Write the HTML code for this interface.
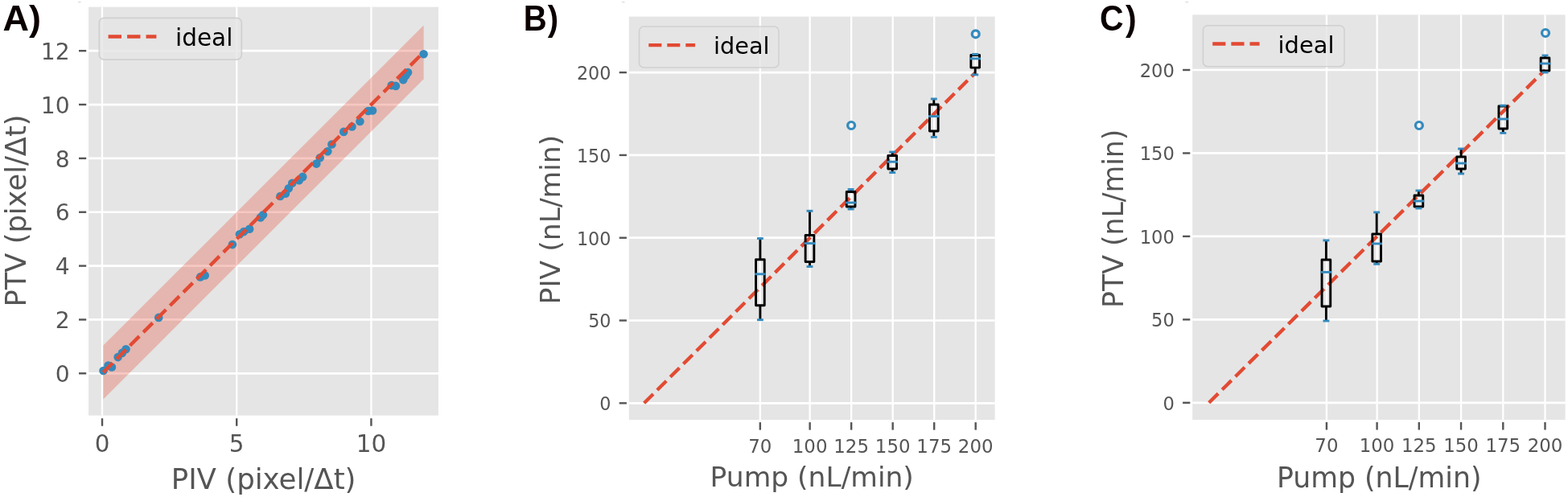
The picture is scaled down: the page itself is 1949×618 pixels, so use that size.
<!DOCTYPE html>
<html lang="en">
<head>
<meta charset="utf-8">
<title>Figure: PIV vs PTV comparison</title>
<style>
html,body{margin:0;padding:0;background:#fff;}
body{width:1949px;height:618px;overflow:hidden;}
svg{display:block;}
</style>
</head>
<body>
<svg width="1949" height="618" viewBox="0 0 1949 618" font-family="'DejaVu Sans', 'Liberation Sans', sans-serif">
<rect width="1949" height="618" fill="#fff"/>
<g id="panelA">
<rect x="96.8" y="1.9" width="4.0" height="1.3" rx="0.6" fill="#d9d9d9"/>
<rect x="110.1" y="8.6" width="434.80" height="508.00" fill="#E5E5E5"/>
<line x1="127.00" y1="8.6" x2="127.00" y2="516.6" stroke="#fff" stroke-width="2.3000000000000003"/>
<line x1="294.20" y1="8.6" x2="294.20" y2="516.6" stroke="#fff" stroke-width="2.3000000000000003"/>
<line x1="461.40" y1="8.6" x2="461.40" y2="516.6" stroke="#fff" stroke-width="2.3000000000000003"/>
<line x1="110.1" y1="464.30" x2="544.9" y2="464.30" stroke="#fff" stroke-width="2.7"/>
<line x1="110.1" y1="397.45" x2="544.9" y2="397.45" stroke="#fff" stroke-width="2.7"/>
<line x1="110.1" y1="330.60" x2="544.9" y2="330.60" stroke="#fff" stroke-width="2.7"/>
<line x1="110.1" y1="263.75" x2="544.9" y2="263.75" stroke="#fff" stroke-width="2.7"/>
<line x1="110.1" y1="196.90" x2="544.9" y2="196.90" stroke="#fff" stroke-width="2.7"/>
<line x1="110.1" y1="130.05" x2="544.9" y2="130.05" stroke="#fff" stroke-width="2.7"/>
<line x1="110.1" y1="63.20" x2="544.9" y2="63.20" stroke="#fff" stroke-width="2.7"/>
<polygon points="128.34,429.54 526.61,31.45 526.61,98.30 128.34,496.39" fill="#E24A33" fill-opacity="0.3"/>
<circle cx="128.50" cy="461.00" r="5.3" fill="#348ABD"/>
<circle cx="134.50" cy="454.50" r="5.3" fill="#348ABD"/>
<circle cx="138.90" cy="456.50" r="5.3" fill="#348ABD"/>
<circle cx="146.60" cy="444.10" r="5.3" fill="#348ABD"/>
<circle cx="151.80" cy="438.90" r="5.3" fill="#348ABD"/>
<circle cx="156.50" cy="434.30" r="5.3" fill="#348ABD"/>
<circle cx="197.20" cy="394.90" r="5.3" fill="#348ABD"/>
<circle cx="249.00" cy="344.40" r="5.3" fill="#348ABD"/>
<circle cx="254.70" cy="342.50" r="5.3" fill="#348ABD"/>
<circle cx="288.90" cy="304.10" r="5.3" fill="#348ABD"/>
<circle cx="297.90" cy="291.20" r="5.3" fill="#348ABD"/>
<circle cx="303.10" cy="288.10" r="5.3" fill="#348ABD"/>
<circle cx="310.10" cy="284.70" r="5.3" fill="#348ABD"/>
<circle cx="323.80" cy="270.40" r="5.3" fill="#348ABD"/>
<circle cx="326.90" cy="267.30" r="5.3" fill="#348ABD"/>
<circle cx="348.40" cy="244.00" r="5.3" fill="#348ABD"/>
<circle cx="354.90" cy="240.70" r="5.3" fill="#348ABD"/>
<circle cx="358.80" cy="234.20" r="5.3" fill="#348ABD"/>
<circle cx="363.20" cy="227.70" r="5.3" fill="#348ABD"/>
<circle cx="371.80" cy="224.30" r="5.3" fill="#348ABD"/>
<circle cx="376.20" cy="219.90" r="5.3" fill="#348ABD"/>
<circle cx="393.30" cy="203.60" r="5.3" fill="#348ABD"/>
<circle cx="397.70" cy="196.30" r="5.3" fill="#348ABD"/>
<circle cx="407.30" cy="188.30" r="5.3" fill="#348ABD"/>
<circle cx="412.40" cy="179.50" r="5.3" fill="#348ABD"/>
<circle cx="427.20" cy="163.90" r="5.3" fill="#348ABD"/>
<circle cx="437.50" cy="157.50" r="5.3" fill="#348ABD"/>
<circle cx="447.40" cy="151.00" r="5.3" fill="#348ABD"/>
<circle cx="457.70" cy="138.00" r="5.3" fill="#348ABD"/>
<circle cx="463.00" cy="137.50" r="5.3" fill="#348ABD"/>
<circle cx="486.70" cy="106.10" r="5.3" fill="#348ABD"/>
<circle cx="491.90" cy="106.90" r="5.3" fill="#348ABD"/>
<circle cx="501.20" cy="99.20" r="5.3" fill="#348ABD"/>
<circle cx="504.40" cy="94.00" r="5.3" fill="#348ABD"/>
<circle cx="507.00" cy="90.10" r="5.3" fill="#348ABD"/>
<circle cx="526.60" cy="67.30" r="5.3" fill="#348ABD"/>
<line x1="128.34" y1="462.96" x2="526.61" y2="64.87" stroke="#E24A33" stroke-width="4.43" stroke-dasharray="16.4 7.07"/>
<line x1="127.00" y1="520.20" x2="127.00" y2="529.70" stroke="#555555" stroke-width="2.4"/>
<text x="127.0" y="562.4" font-size="29.4" text-anchor="middle" fill="#555555">0</text>
<line x1="294.20" y1="520.20" x2="294.20" y2="529.70" stroke="#555555" stroke-width="2.4"/>
<text x="294.2" y="562.4" font-size="29.4" text-anchor="middle" fill="#555555">5</text>
<line x1="461.40" y1="520.20" x2="461.40" y2="529.70" stroke="#555555" stroke-width="2.4"/>
<text x="461.4" y="562.4" font-size="29.4" text-anchor="middle" fill="#555555">10</text>
<line x1="98.00" y1="464.30" x2="107.20" y2="464.30" stroke="#555555" stroke-width="2.4"/>
<text x="86.6" y="474.90" font-size="28.2" text-anchor="end" fill="#555555">0</text>
<line x1="98.00" y1="397.45" x2="107.20" y2="397.45" stroke="#555555" stroke-width="2.4"/>
<text x="86.6" y="408.05" font-size="28.2" text-anchor="end" fill="#555555">2</text>
<line x1="98.00" y1="330.60" x2="107.20" y2="330.60" stroke="#555555" stroke-width="2.4"/>
<text x="86.6" y="341.20" font-size="28.2" text-anchor="end" fill="#555555">4</text>
<line x1="98.00" y1="263.75" x2="107.20" y2="263.75" stroke="#555555" stroke-width="2.4"/>
<text x="86.6" y="274.35" font-size="28.2" text-anchor="end" fill="#555555">6</text>
<line x1="98.00" y1="196.90" x2="107.20" y2="196.90" stroke="#555555" stroke-width="2.4"/>
<text x="86.6" y="207.50" font-size="28.2" text-anchor="end" fill="#555555">8</text>
<line x1="98.00" y1="130.05" x2="107.20" y2="130.05" stroke="#555555" stroke-width="2.4"/>
<text x="86.6" y="140.65" font-size="28.2" text-anchor="end" fill="#555555">10</text>
<line x1="98.00" y1="63.20" x2="107.20" y2="63.20" stroke="#555555" stroke-width="2.4"/>
<text x="86.6" y="73.80" font-size="28.2" text-anchor="end" fill="#555555">12</text>
<rect x="123.3" y="22.4" width="177.0" height="51.7" rx="5.8" ry="5.8" fill="#E5E5E5" fill-opacity="0.8" stroke="#cccccc" stroke-opacity="0.85" stroke-width="1.6"/>
<line x1="134.60" y1="45.50" x2="194.40" y2="45.50" stroke="#E24A33" stroke-width="4.43" stroke-dasharray="16.4 7.07"/>
<text x="218.00" y="57.15" font-size="29.5" fill="#000">ideal</text>
<text x="327.6" y="607.5" font-size="35.6" text-anchor="middle" fill="#555555">PIV (pixel/Δt)</text>
<text transform="translate(32,262) rotate(-90)" font-size="35.3" text-anchor="middle" fill="#555555">PTV (pixel/Δt)</text>
<text transform="translate(3.4,37.7) scale(1.0,1)" font-size="45" font-weight="bold" font-family="'Liberation Sans', 'DejaVu Sans', sans-serif" fill="#0b0000">A<tspan dx="0">)</tspan></text>
</g>
<g id="panelB">
<rect x="772.9" y="1.9" width="3.8" height="1.3" rx="0.6" fill="#d9d9d9"/>
<rect x="781.8" y="20.6" width="454.80" height="501.50" fill="#E5E5E5"/>
<line x1="944.84" y1="20.6" x2="944.84" y2="522.1" stroke="#fff" stroke-width="2.3000000000000003"/>
<line x1="1006.65" y1="20.6" x2="1006.65" y2="522.1" stroke="#fff" stroke-width="2.3000000000000003"/>
<line x1="1058.16" y1="20.6" x2="1058.16" y2="522.1" stroke="#fff" stroke-width="2.3000000000000003"/>
<line x1="1109.68" y1="20.6" x2="1109.68" y2="522.1" stroke="#fff" stroke-width="2.3000000000000003"/>
<line x1="1161.19" y1="20.6" x2="1161.19" y2="522.1" stroke="#fff" stroke-width="2.3000000000000003"/>
<line x1="1212.70" y1="20.6" x2="1212.70" y2="522.1" stroke="#fff" stroke-width="2.3000000000000003"/>
<line x1="781.8" y1="501.30" x2="1236.6" y2="501.30" stroke="#fff" stroke-width="2.7"/>
<line x1="781.8" y1="398.50" x2="1236.6" y2="398.50" stroke="#fff" stroke-width="2.7"/>
<line x1="781.8" y1="295.70" x2="1236.6" y2="295.70" stroke="#fff" stroke-width="2.7"/>
<line x1="781.8" y1="192.90" x2="1236.6" y2="192.90" stroke="#fff" stroke-width="2.7"/>
<line x1="781.8" y1="90.10" x2="1236.6" y2="90.10" stroke="#fff" stroke-width="2.7"/>
<line x1="800.60" y1="501.30" x2="1212.70" y2="90.10" stroke="#E24A33" stroke-width="4.35" stroke-dasharray="16.06 6.94"/>
<line x1="944.9" y1="322.8" x2="944.9" y2="296.5" stroke="#000" stroke-width="2.9"/>
<line x1="944.9" y1="379.7" x2="944.9" y2="397.7" stroke="#000" stroke-width="2.9"/>
<rect x="939.55" y="322.8" width="10.7" height="56.90" fill="none" stroke="#000" stroke-width="2.9" stroke-linejoin="round"/>
<line x1="942.40" y1="296.5" x2="947.40" y2="296.5" stroke="#348ABD" stroke-width="2.9" stroke-linecap="square"/>
<line x1="942.40" y1="397.7" x2="947.40" y2="397.7" stroke="#348ABD" stroke-width="2.9" stroke-linecap="square"/>
<line x1="939.55" y1="340.8" x2="950.25" y2="340.8" stroke="#348ABD" stroke-width="2.9" stroke-linecap="square"/>
<line x1="1006.5" y1="292.5" x2="1006.5" y2="262.3" stroke="#000" stroke-width="2.9"/>
<line x1="1006.5" y1="325.5" x2="1006.5" y2="331.5" stroke="#000" stroke-width="2.9"/>
<rect x="1001.15" y="292.5" width="10.7" height="33.00" fill="none" stroke="#000" stroke-width="2.9" stroke-linejoin="round"/>
<line x1="1004.00" y1="262.3" x2="1009.00" y2="262.3" stroke="#348ABD" stroke-width="2.9" stroke-linecap="square"/>
<line x1="1004.00" y1="331.5" x2="1009.00" y2="331.5" stroke="#348ABD" stroke-width="2.9" stroke-linecap="square"/>
<line x1="1001.15" y1="302.6" x2="1011.85" y2="302.6" stroke="#348ABD" stroke-width="2.9" stroke-linecap="square"/>
<line x1="1057.6" y1="238.5" x2="1057.6" y2="235.5" stroke="#000" stroke-width="2.9"/>
<line x1="1057.6" y1="257" x2="1057.6" y2="260" stroke="#000" stroke-width="2.9"/>
<rect x="1052.25" y="238.5" width="10.7" height="18.50" fill="none" stroke="#000" stroke-width="2.9" stroke-linejoin="round"/>
<line x1="1055.10" y1="235.5" x2="1060.10" y2="235.5" stroke="#348ABD" stroke-width="2.9" stroke-linecap="square"/>
<line x1="1055.10" y1="260" x2="1060.10" y2="260" stroke="#348ABD" stroke-width="2.9" stroke-linecap="square"/>
<line x1="1052.25" y1="252" x2="1062.95" y2="252" stroke="#348ABD" stroke-width="2.9" stroke-linecap="square"/>
<circle cx="1058.1" cy="156" r="4.5" fill="none" stroke="#348ABD" stroke-width="3.2"/>
<line x1="1109.2" y1="193.5" x2="1109.2" y2="189" stroke="#000" stroke-width="2.9"/>
<line x1="1109.2" y1="210" x2="1109.2" y2="214.6" stroke="#000" stroke-width="2.9"/>
<rect x="1103.85" y="193.5" width="10.7" height="16.50" fill="none" stroke="#000" stroke-width="2.9" stroke-linejoin="round"/>
<line x1="1106.70" y1="189" x2="1111.70" y2="189" stroke="#348ABD" stroke-width="2.9" stroke-linecap="square"/>
<line x1="1106.70" y1="214.6" x2="1111.70" y2="214.6" stroke="#348ABD" stroke-width="2.9" stroke-linecap="square"/>
<line x1="1103.85" y1="201.2" x2="1114.55" y2="201.2" stroke="#348ABD" stroke-width="2.9" stroke-linecap="square"/>
<line x1="1160.8" y1="130" x2="1160.8" y2="123" stroke="#000" stroke-width="2.9"/>
<line x1="1160.8" y1="163" x2="1160.8" y2="170.4" stroke="#000" stroke-width="2.9"/>
<rect x="1155.45" y="130" width="10.7" height="33.00" fill="none" stroke="#000" stroke-width="2.9" stroke-linejoin="round"/>
<line x1="1158.30" y1="123" x2="1163.30" y2="123" stroke="#348ABD" stroke-width="2.9" stroke-linecap="square"/>
<line x1="1158.30" y1="170.4" x2="1163.30" y2="170.4" stroke="#348ABD" stroke-width="2.9" stroke-linecap="square"/>
<line x1="1155.45" y1="144.6" x2="1166.15" y2="144.6" stroke="#348ABD" stroke-width="2.9" stroke-linecap="square"/>
<line x1="1212.2" y1="68.5" x2="1212.2" y2="67.4" stroke="#000" stroke-width="2.9"/>
<line x1="1212.2" y1="84.1" x2="1212.2" y2="92.9" stroke="#000" stroke-width="2.9"/>
<rect x="1206.85" y="68.5" width="10.7" height="15.60" fill="none" stroke="#000" stroke-width="2.9" stroke-linejoin="round"/>
<line x1="1209.70" y1="67.4" x2="1214.70" y2="67.4" stroke="#348ABD" stroke-width="2.9" stroke-linecap="square"/>
<line x1="1209.70" y1="92.9" x2="1214.70" y2="92.9" stroke="#348ABD" stroke-width="2.9" stroke-linecap="square"/>
<line x1="1206.85" y1="72.9" x2="1217.55" y2="72.9" stroke="#348ABD" stroke-width="2.9" stroke-linecap="square"/>
<circle cx="1212.7" cy="42.3" r="4.5" fill="none" stroke="#348ABD" stroke-width="3.2"/>
<line x1="944.84" y1="525.10" x2="944.84" y2="534.60" stroke="#555555" stroke-width="2.4"/>
<text x="944.835" y="562.9" font-size="22.9" text-anchor="middle" fill="#555555">70</text>
<line x1="1006.65" y1="525.10" x2="1006.65" y2="534.60" stroke="#555555" stroke-width="2.4"/>
<text x="1006.6500000000001" y="562.9" font-size="22.9" text-anchor="middle" fill="#555555">100</text>
<line x1="1058.16" y1="525.10" x2="1058.16" y2="534.60" stroke="#555555" stroke-width="2.4"/>
<text x="1058.1625" y="562.9" font-size="22.9" text-anchor="middle" fill="#555555">125</text>
<line x1="1109.68" y1="525.10" x2="1109.68" y2="534.60" stroke="#555555" stroke-width="2.4"/>
<text x="1109.6750000000002" y="562.9" font-size="22.9" text-anchor="middle" fill="#555555">150</text>
<line x1="1161.19" y1="525.10" x2="1161.19" y2="534.60" stroke="#555555" stroke-width="2.4"/>
<text x="1161.1875" y="562.9" font-size="22.9" text-anchor="middle" fill="#555555">175</text>
<line x1="1212.70" y1="525.10" x2="1212.70" y2="534.60" stroke="#555555" stroke-width="2.4"/>
<text x="1212.7" y="562.9" font-size="22.9" text-anchor="middle" fill="#555555">200</text>
<line x1="769.70" y1="501.30" x2="778.90" y2="501.30" stroke="#555555" stroke-width="2.4"/>
<text x="759.5" y="510.10" font-size="22.3" text-anchor="end" fill="#555555">0</text>
<line x1="769.70" y1="398.50" x2="778.90" y2="398.50" stroke="#555555" stroke-width="2.4"/>
<text x="759.5" y="407.30" font-size="22.3" text-anchor="end" fill="#555555">50</text>
<line x1="769.70" y1="295.70" x2="778.90" y2="295.70" stroke="#555555" stroke-width="2.4"/>
<text x="759.5" y="304.50" font-size="22.3" text-anchor="end" fill="#555555">100</text>
<line x1="769.70" y1="192.90" x2="778.90" y2="192.90" stroke="#555555" stroke-width="2.4"/>
<text x="759.5" y="201.70" font-size="22.3" text-anchor="end" fill="#555555">150</text>
<line x1="769.70" y1="90.10" x2="778.90" y2="90.10" stroke="#555555" stroke-width="2.4"/>
<text x="759.5" y="98.90" font-size="22.3" text-anchor="end" fill="#555555">200</text>
<rect x="794.5" y="33.0" width="173.5" height="51.0" rx="5.8" ry="5.8" fill="#E5E5E5" fill-opacity="0.8" stroke="#cccccc" stroke-opacity="0.85" stroke-width="1.6"/>
<line x1="806.30" y1="56.10" x2="864.10" y2="56.10" stroke="#E24A33" stroke-width="4.35" stroke-dasharray="16.06 6.94"/>
<text x="887.00" y="67.30" font-size="28.75" fill="#000">ideal</text>
<text x="1009.2" y="604.7" font-size="34.5" text-anchor="middle" fill="#555555">Pump (nL/min)</text>
<text transform="translate(696.4,273.1) rotate(-90)" font-size="34.6" text-anchor="middle" fill="#555555">PIV (nL/min)</text>
<text transform="translate(650.8,37.9) scale(0.89,1)" font-size="45" font-weight="bold" font-family="'Liberation Sans', 'DejaVu Sans', sans-serif" fill="#0b0000">B<tspan dx="1.2">)</tspan></text>
</g>
<g id="panelC">
<rect x="1473.2" y="1.9" width="4.0" height="1.3" rx="0.6" fill="#d9d9d9"/>
<rect x="1482.2" y="18.4" width="463.40" height="503.60" fill="#E5E5E5"/>
<line x1="1648.93" y1="18.4" x2="1648.93" y2="522.0" stroke="#fff" stroke-width="2.3000000000000003"/>
<line x1="1711.60" y1="18.4" x2="1711.60" y2="522.0" stroke="#fff" stroke-width="2.3000000000000003"/>
<line x1="1763.83" y1="18.4" x2="1763.83" y2="522.0" stroke="#fff" stroke-width="2.3000000000000003"/>
<line x1="1816.05" y1="18.4" x2="1816.05" y2="522.0" stroke="#fff" stroke-width="2.3000000000000003"/>
<line x1="1868.28" y1="18.4" x2="1868.28" y2="522.0" stroke="#fff" stroke-width="2.3000000000000003"/>
<line x1="1920.50" y1="18.4" x2="1920.50" y2="522.0" stroke="#fff" stroke-width="2.3000000000000003"/>
<line x1="1482.2" y1="500.80" x2="1945.6" y2="500.80" stroke="#fff" stroke-width="2.7"/>
<line x1="1482.2" y1="397.35" x2="1945.6" y2="397.35" stroke="#fff" stroke-width="2.7"/>
<line x1="1482.2" y1="293.90" x2="1945.6" y2="293.90" stroke="#fff" stroke-width="2.7"/>
<line x1="1482.2" y1="190.45" x2="1945.6" y2="190.45" stroke="#fff" stroke-width="2.7"/>
<line x1="1482.2" y1="87.00" x2="1945.6" y2="87.00" stroke="#fff" stroke-width="2.7"/>
<line x1="1502.70" y1="500.80" x2="1920.50" y2="87.00" stroke="#E24A33" stroke-width="4.38" stroke-dasharray="16.2 6.95"/>
<line x1="1648.4" y1="323" x2="1648.4" y2="298.9" stroke="#000" stroke-width="2.9"/>
<line x1="1648.4" y1="381" x2="1648.4" y2="399" stroke="#000" stroke-width="2.9"/>
<rect x="1643.05" y="323" width="10.7" height="58.00" fill="none" stroke="#000" stroke-width="2.9" stroke-linejoin="round"/>
<line x1="1645.90" y1="298.9" x2="1650.90" y2="298.9" stroke="#348ABD" stroke-width="2.9" stroke-linecap="square"/>
<line x1="1645.90" y1="399" x2="1650.90" y2="399" stroke="#348ABD" stroke-width="2.9" stroke-linecap="square"/>
<line x1="1643.05" y1="338.4" x2="1653.75" y2="338.4" stroke="#348ABD" stroke-width="2.9" stroke-linecap="square"/>
<line x1="1711.2" y1="291" x2="1711.2" y2="264" stroke="#000" stroke-width="2.9"/>
<line x1="1711.2" y1="325" x2="1711.2" y2="328.3" stroke="#000" stroke-width="2.9"/>
<rect x="1705.85" y="291" width="10.7" height="34.00" fill="none" stroke="#000" stroke-width="2.9" stroke-linejoin="round"/>
<line x1="1708.70" y1="264" x2="1713.70" y2="264" stroke="#348ABD" stroke-width="2.9" stroke-linecap="square"/>
<line x1="1708.70" y1="328.3" x2="1713.70" y2="328.3" stroke="#348ABD" stroke-width="2.9" stroke-linecap="square"/>
<line x1="1705.85" y1="303.0" x2="1716.55" y2="303.0" stroke="#348ABD" stroke-width="2.9" stroke-linecap="square"/>
<line x1="1763.4" y1="243" x2="1763.4" y2="237" stroke="#000" stroke-width="2.9"/>
<line x1="1763.4" y1="257" x2="1763.4" y2="259" stroke="#000" stroke-width="2.9"/>
<rect x="1758.05" y="243" width="10.7" height="14.00" fill="none" stroke="#000" stroke-width="2.9" stroke-linejoin="round"/>
<line x1="1760.90" y1="237" x2="1765.90" y2="237" stroke="#348ABD" stroke-width="2.9" stroke-linecap="square"/>
<line x1="1760.90" y1="259" x2="1765.90" y2="259" stroke="#348ABD" stroke-width="2.9" stroke-linecap="square"/>
<line x1="1758.05" y1="250" x2="1768.75" y2="250" stroke="#348ABD" stroke-width="2.9" stroke-linecap="square"/>
<circle cx="1763.9" cy="156" r="4.5" fill="none" stroke="#348ABD" stroke-width="3.2"/>
<line x1="1816.1" y1="195" x2="1816.1" y2="185" stroke="#000" stroke-width="2.9"/>
<line x1="1816.1" y1="210" x2="1816.1" y2="216" stroke="#000" stroke-width="2.9"/>
<rect x="1810.75" y="195" width="10.7" height="15.00" fill="none" stroke="#000" stroke-width="2.9" stroke-linejoin="round"/>
<line x1="1813.60" y1="185" x2="1818.60" y2="185" stroke="#348ABD" stroke-width="2.9" stroke-linecap="square"/>
<line x1="1813.60" y1="216" x2="1818.60" y2="216" stroke="#348ABD" stroke-width="2.9" stroke-linecap="square"/>
<line x1="1810.75" y1="203" x2="1821.45" y2="203" stroke="#348ABD" stroke-width="2.9" stroke-linecap="square"/>
<line x1="1868.3" y1="132" x2="1868.3" y2="131.2" stroke="#000" stroke-width="2.9"/>
<line x1="1868.3" y1="160" x2="1868.3" y2="165.4" stroke="#000" stroke-width="2.9"/>
<rect x="1862.95" y="132" width="10.7" height="28.00" fill="none" stroke="#000" stroke-width="2.9" stroke-linejoin="round"/>
<line x1="1865.80" y1="131.2" x2="1870.80" y2="131.2" stroke="#348ABD" stroke-width="2.9" stroke-linecap="square"/>
<line x1="1865.80" y1="165.4" x2="1870.80" y2="165.4" stroke="#348ABD" stroke-width="2.9" stroke-linecap="square"/>
<line x1="1862.95" y1="148" x2="1873.65" y2="148" stroke="#348ABD" stroke-width="2.9" stroke-linecap="square"/>
<line x1="1920.5" y1="72" x2="1920.5" y2="69" stroke="#000" stroke-width="2.9"/>
<line x1="1920.5" y1="88" x2="1920.5" y2="90" stroke="#000" stroke-width="2.9"/>
<rect x="1915.15" y="72" width="10.7" height="16.00" fill="none" stroke="#000" stroke-width="2.9" stroke-linejoin="round"/>
<line x1="1918.00" y1="69" x2="1923.00" y2="69" stroke="#348ABD" stroke-width="2.9" stroke-linecap="square"/>
<line x1="1918.00" y1="90" x2="1923.00" y2="90" stroke="#348ABD" stroke-width="2.9" stroke-linecap="square"/>
<line x1="1915.15" y1="79" x2="1925.85" y2="79" stroke="#348ABD" stroke-width="2.9" stroke-linecap="square"/>
<circle cx="1921.0" cy="41" r="4.5" fill="none" stroke="#348ABD" stroke-width="3.2"/>
<line x1="1648.93" y1="525.00" x2="1648.93" y2="534.50" stroke="#555555" stroke-width="2.4"/>
<text x="1648.93" y="562.0" font-size="22.9" text-anchor="middle" fill="#555555">70</text>
<line x1="1711.60" y1="525.00" x2="1711.60" y2="534.50" stroke="#555555" stroke-width="2.4"/>
<text x="1711.6000000000001" y="562.0" font-size="22.9" text-anchor="middle" fill="#555555">100</text>
<line x1="1763.83" y1="525.00" x2="1763.83" y2="534.50" stroke="#555555" stroke-width="2.4"/>
<text x="1763.825" y="562.0" font-size="22.9" text-anchor="middle" fill="#555555">125</text>
<line x1="1816.05" y1="525.00" x2="1816.05" y2="534.50" stroke="#555555" stroke-width="2.4"/>
<text x="1816.0500000000002" y="562.0" font-size="22.9" text-anchor="middle" fill="#555555">150</text>
<line x1="1868.28" y1="525.00" x2="1868.28" y2="534.50" stroke="#555555" stroke-width="2.4"/>
<text x="1868.275" y="562.0" font-size="22.9" text-anchor="middle" fill="#555555">175</text>
<line x1="1920.50" y1="525.00" x2="1920.50" y2="534.50" stroke="#555555" stroke-width="2.4"/>
<text x="1920.5" y="562.0" font-size="22.9" text-anchor="middle" fill="#555555">200</text>
<line x1="1470.10" y1="500.80" x2="1479.30" y2="500.80" stroke="#555555" stroke-width="2.4"/>
<text x="1459.8" y="509.80" font-size="22.6" text-anchor="end" fill="#555555">0</text>
<line x1="1470.10" y1="397.35" x2="1479.30" y2="397.35" stroke="#555555" stroke-width="2.4"/>
<text x="1459.8" y="406.35" font-size="22.6" text-anchor="end" fill="#555555">50</text>
<line x1="1470.10" y1="293.90" x2="1479.30" y2="293.90" stroke="#555555" stroke-width="2.4"/>
<text x="1459.8" y="302.90" font-size="22.6" text-anchor="end" fill="#555555">100</text>
<line x1="1470.10" y1="190.45" x2="1479.30" y2="190.45" stroke="#555555" stroke-width="2.4"/>
<text x="1459.8" y="199.45" font-size="22.6" text-anchor="end" fill="#555555">150</text>
<line x1="1470.10" y1="87.00" x2="1479.30" y2="87.00" stroke="#555555" stroke-width="2.4"/>
<text x="1459.8" y="96.00" font-size="22.6" text-anchor="end" fill="#555555">200</text>
<rect x="1495.4" y="31.8" width="175.6" height="51.0" rx="5.8" ry="5.8" fill="#E5E5E5" fill-opacity="0.8" stroke="#cccccc" stroke-opacity="0.85" stroke-width="1.6"/>
<line x1="1507.20" y1="54.55" x2="1565.60" y2="54.55" stroke="#E24A33" stroke-width="4.38" stroke-dasharray="16.2 6.95"/>
<text x="1588.60" y="66.05" font-size="28.9" fill="#000">ideal</text>
<text x="1714.2" y="605.5" font-size="34.7" text-anchor="middle" fill="#555555">Pump (nL/min)</text>
<text transform="translate(1396.4,271.8) rotate(-90)" font-size="34.7" text-anchor="middle" fill="#555555">PTV (nL/min)</text>
<text transform="translate(1367.0,38.2) scale(0.91,1)" font-size="45" font-weight="bold" font-family="'Liberation Sans', 'DejaVu Sans', sans-serif" fill="#0b0000">C<tspan dx="2.6">)</tspan></text>
</g>
</svg>
</body>
</html>
